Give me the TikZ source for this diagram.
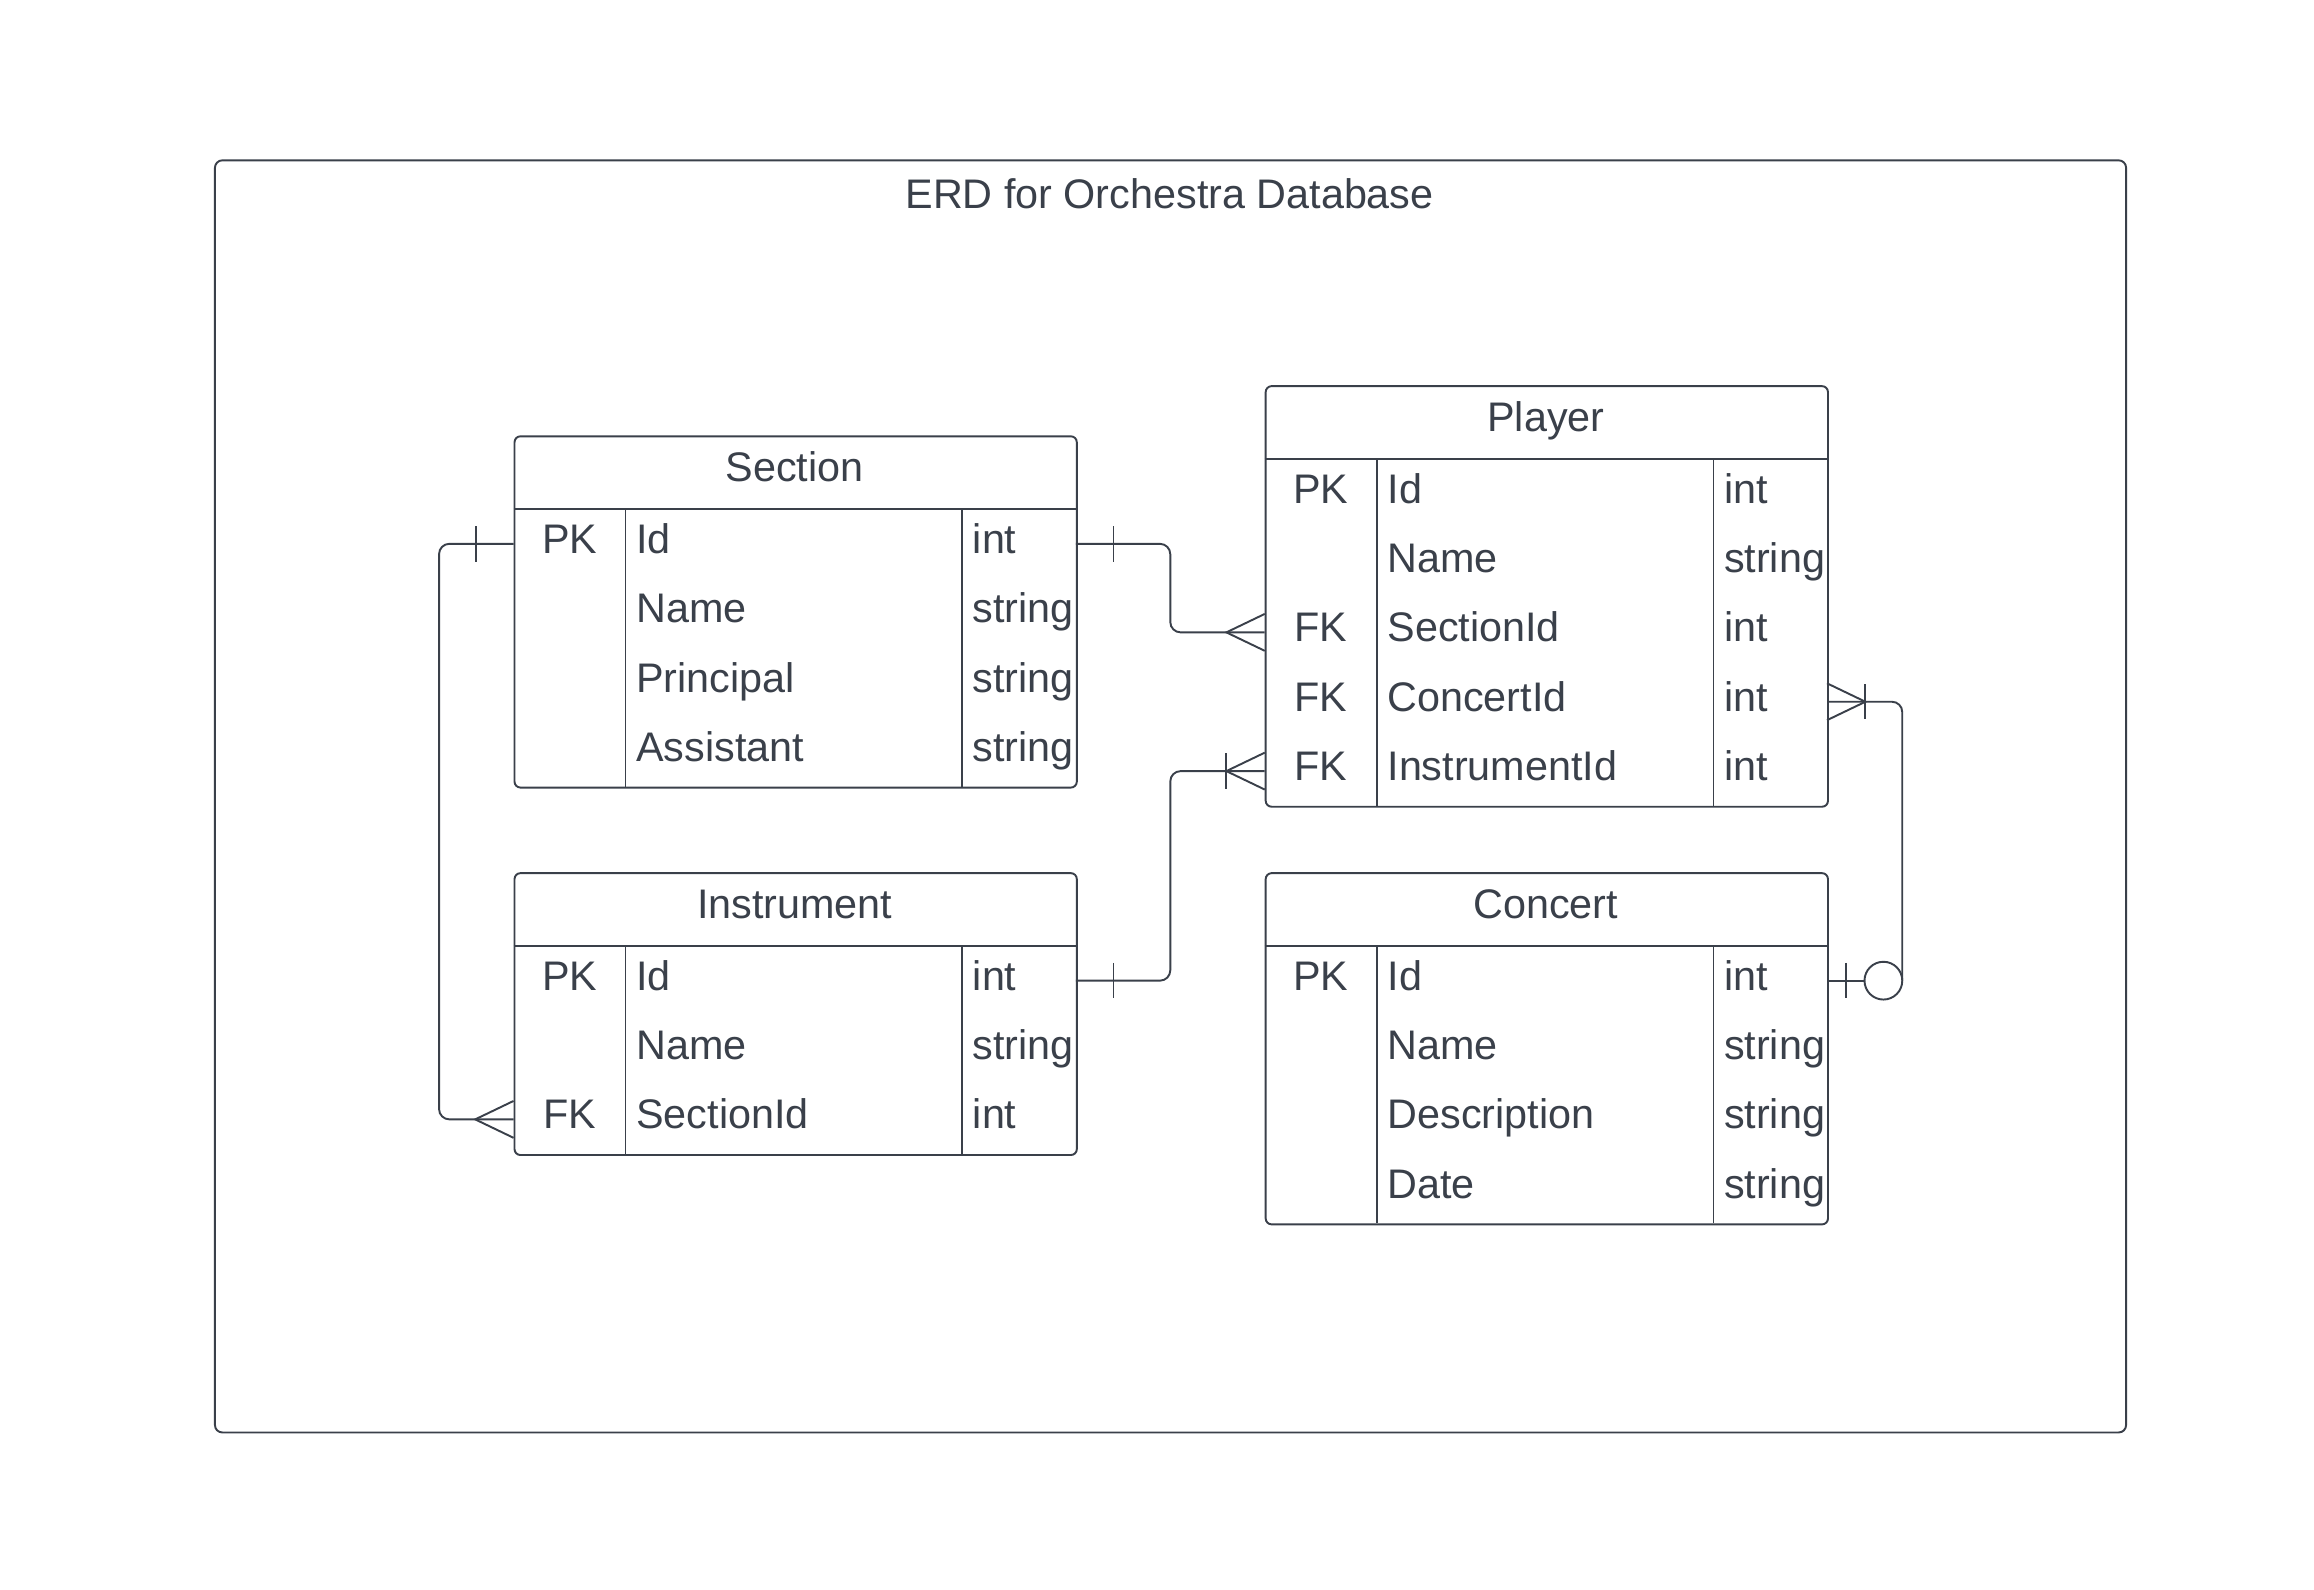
\documentclass[tikz,border=0pt]{standalone}
\usepackage{fontspec}
\setmainfont{Liberation Sans}
\usetikzlibrary{calc}
\definecolor{ink}{RGB}{58,64,74}
\newcommand{\erfont}{\fontsize{28}{34}\selectfont}
\tikzset{
  ink line/.style={draw=ink, line width=1.3pt},
  thin line/.style={draw=ink, line width=1pt},
  tablebox/.style={draw=ink, line width=1.3pt, rounded corners=4pt, minimum width=381pt, inner sep=0pt, anchor=north west},
  rowbox/.style={minimum width=381pt, minimum height=47pt, inner sep=0pt, outer sep=0pt, anchor=north west},
  keytext/.style={text=ink, font=\erfont, inner sep=0pt, anchor=base},
  celltext/.style={text=ink, font=\erfont, inner sep=0pt, anchor=base west},
  conn/.style={draw=ink, line width=1.3pt, rounded corners=7pt},
  zeroring/.style={circle, draw=ink, line width=1.3pt, minimum size=25.6pt, inner sep=0pt, outer sep=0pt},
}
% #1 name, #2 x left, #3 y top, #4 title, #5 number of rows, #6 rows key/name/type
\newcommand{\ertable}[6]{%
  \node[tablebox, minimum height={50pt+47pt*#5}] (#1) at (#2,#3) {};
  \node[keytext] (#1-title) at ({#2+190.5},{#3+31.5}) {#4};
  \draw[thin line] (#2,{#3+50}) -- ({#2+381},{#3+50});
  \draw[thin line] ({#2+76},{#3+50}) -- ({#2+76},{#3+50+47*#5});
  \draw[thin line] ({#2+304},{#3+50}) -- ({#2+304},{#3+50+47*#5});
  \foreach \ky/\nm/\ty [count=\i] in {#6} {
    \node[rowbox] (#1-\i) at (#2,{#3+50+47*(\i-1)}) {};
    \node[keytext] (#1-\i-k) at ({#2+38},{#3+50+47*(\i-1)+30}) {\ky};
    \node[celltext] (#1-\i-n) at ({#2+83},{#3+50+47*(\i-1)+30}) {\nm};
    \node[celltext] (#1-\i-t) at ({#2+311},{#3+50+47*(\i-1)+30}) {\ty};
  }%
}
\begin{document}
\begin{tikzpicture}[x=1pt,y=-1pt]
\useasboundingbox (0,0) rectangle (1568,1077);
\fill[white] (0,0) rectangle (1568,1077);

\node[draw=ink, line width=1.3pt, rounded corners=5pt, minimum width=1295pt, minimum height=862pt, anchor=north west, inner sep=0pt] (frame) at (145,108) {};
\node[keytext] (title) at (792.5,141) {ERD for Orchestra Database};

\ertable{section}{348}{295}{Section}{4}{PK/Id/int,/Name/string,/Principal/string,/Assistant/string}
\ertable{instrument}{348}{591}{Instrument}{3}{PK/Id/int,/Name/string,FK/SectionId/int}
\ertable{player}{857}{261}{Player}{5}{PK/Id/int,/Name/string,FK/SectionId/int,FK/ConcertId/int,FK/InstrumentId/int}
\ertable{concert}{857}{591}{Concert}{4}{PK/Id/int,/Name/string,/Description/string,/Date/string}

\coordinate (midx) at (793,0);
\coordinate (leftx) at (297.5,0);

% Section -> Player (one to many)
\draw[conn] (section-1.east) -- (section-1.east -| midx) -- (player-3.west -| midx) -- (player-3.west);
\draw[ink line] ($(section-1.east)+(25.5,-12)$) -- ($(section-1.east)+(25.5,12)$);
\draw[ink line] ($(player-3.west)+(0,-12.5)$) -- ($(player-3.west)+(-26,0)$) -- ($(player-3.west)+(0,12.5)$);

% Instrument -> Player (one to one-or-many)
\draw[conn] (instrument-1.east) -- (instrument-1.east -| midx) -- (player-5.west -| midx) -- (player-5.west);
\draw[ink line] ($(instrument-1.east)+(25.5,-12)$) -- ($(instrument-1.east)+(25.5,12)$);
\draw[ink line] ($(player-5.west)+(0,-12.5)$) -- ($(player-5.west)+(-26,0)$) -- ($(player-5.west)+(0,12.5)$);
\draw[ink line] ($(player-5.west)+(-26,-12)$) -- ($(player-5.west)+(-26,12)$);

% Section -> Instrument (one to many)
\draw[conn] (section-1.west) -- (section-1.west -| leftx) -- (instrument-3.west -| leftx) -- (instrument-3.west);
\draw[ink line] ($(section-1.west)+(-25.5,-12)$) -- ($(section-1.west)+(-25.5,12)$);
\draw[ink line] ($(instrument-3.west)+(0,-12.5)$) -- ($(instrument-3.west)+(-26,0)$) -- ($(instrument-3.west)+(0,12.5)$);

% Player -> Concert (one-or-many to zero-or-one)
\node[zeroring] (zo) at ($(concert-1.east)+(38.2,0)$) {};
\draw[conn] (player-4.east) -- (player-4.east -| zo.east) -- (zo.east);
\draw[ink line] (concert-1.east) -- (zo.west);
\draw[ink line] ($(concert-1.east)+(13,-12)$) -- ($(concert-1.east)+(13,12)$);
\draw[ink line] ($(player-4.east)+(0,-12.5)$) -- ($(player-4.east)+(26,0)$) -- ($(player-4.east)+(0,12.5)$);
\draw[ink line] ($(player-4.east)+(26,-12)$) -- ($(player-4.east)+(26,12)$);
\end{tikzpicture}
\end{document}
